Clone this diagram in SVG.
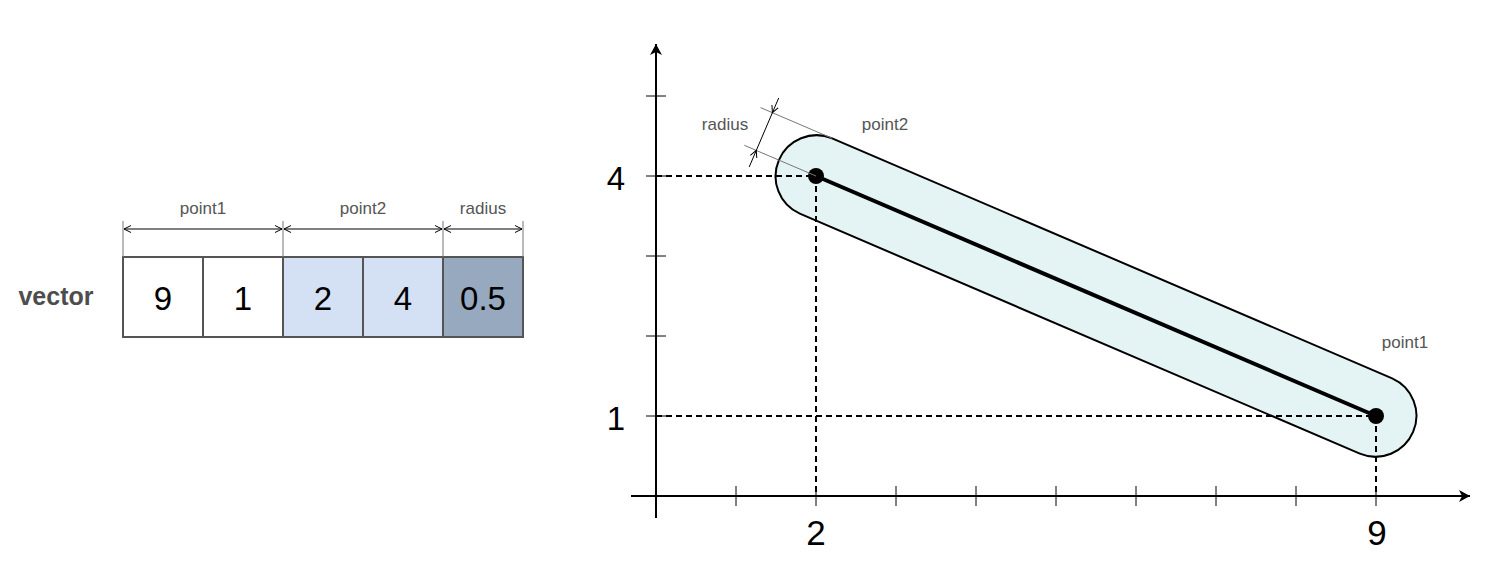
<svg xmlns="http://www.w3.org/2000/svg" width="1487" height="579" viewBox="0 0 1487 579">
<style>
.lbl{font-family:"Liberation Sans",Arial,sans-serif;font-size:17px;fill:#555;text-anchor:middle}
.num{font-family:"Liberation Sans",Arial,sans-serif;font-size:33px;fill:#000;text-anchor:middle}
.ax{font-family:"Liberation Sans",Arial,sans-serif;fill:#000;text-anchor:middle}
.cell{stroke:#555;stroke-width:2}
.ext{stroke:#777;stroke-width:1;fill:none}
.dim{stroke:#000;stroke-width:1;fill:none}
.axis{stroke:#000;stroke-width:2;fill:none}
.tick{stroke:#000;stroke-width:1}
.dash{stroke:#000;stroke-width:2;stroke-dasharray:6 4;fill:none}
</style>
<defs>
<marker id="open" markerUnits="userSpaceOnUse" markerWidth="10" markerHeight="10" refX="7" refY="3.5" orient="auto-start-reverse" viewBox="0 0 10 7">
<path d="M0,0 L7,3.5 L0,7" fill="none" stroke="#000" stroke-width="1"/>
</marker>
<marker id="axarrow" markerUnits="userSpaceOnUse" markerWidth="14" markerHeight="14" refX="11" refY="7" orient="auto" viewBox="0 0 14 14">
<path d="M0,1 L11,7 L0,13 L3,7 Z" fill="#000"/>
</marker>
</defs>
<rect width="1487" height="579" fill="#fff"/>

<g id="vector-label"><text x="56" y="305" font-family="Liberation Sans,Arial,sans-serif" font-size="25px" font-weight="bold" fill="#4d4d4d" text-anchor="middle">vector</text></g>

<g id="cell-9"><rect class="cell" x="123" y="257" width="80" height="80" fill="#fff"/><text class="num" x="163" y="310">9</text></g>
<g id="cell-1"><rect class="cell" x="203" y="257" width="80" height="80" fill="#fff" stroke="#333"/><text class="num" x="243" y="310">1</text></g>
<g id="cell-2"><rect class="cell" x="283" y="257" width="80" height="80" fill="#d4e1f5"/><text class="num" x="323" y="310">2</text></g>
<g id="cell-4"><rect class="cell" x="363" y="257" width="80" height="80" fill="#d4e1f5"/><text class="num" x="403" y="310">4</text></g>
<g id="cell-05"><rect class="cell" x="443" y="257" width="80" height="80" fill="#97a9bf"/><text class="num" x="483" y="310">0.5</text></g>

<g id="vector-dims">
<line class="ext" x1="123" y1="221" x2="123" y2="257"/>
<line class="ext" x1="283" y1="221" x2="283" y2="257"/>
<line class="ext" x1="443" y1="221" x2="443" y2="257"/>
<line class="ext" x1="523" y1="221" x2="523" y2="257"/>
<line class="dim" x1="124" y1="229" x2="282" y2="229" marker-start="url(#open)" marker-end="url(#open)"/>
<line class="dim" x1="284" y1="229" x2="442" y2="229" marker-start="url(#open)" marker-end="url(#open)"/>
<line class="dim" x1="444" y1="229" x2="522" y2="229" marker-start="url(#open)" marker-end="url(#open)"/>
<text class="lbl" x="203" y="214">point1</text>
<text class="lbl" x="363" y="214">point2</text>
<text class="lbl" x="483" y="214">radius</text>
</g>

<g id="axes">
<line class="axis" x1="656" y1="518" x2="656" y2="44" marker-end="url(#axarrow)"/>
<line class="axis" x1="631" y1="496" x2="1470" y2="496" marker-end="url(#axarrow)"/>
<g class="tick">
<line x1="646" y1="96" x2="666" y2="96"/>
<line x1="646" y1="176" x2="666" y2="176"/>
<line x1="646" y1="256" x2="666" y2="256"/>
<line x1="646" y1="336" x2="666" y2="336"/>
<line x1="646" y1="416" x2="666" y2="416"/>
<line x1="736" y1="486" x2="736" y2="506"/>
<line x1="816" y1="486" x2="816" y2="506"/>
<line x1="896" y1="486" x2="896" y2="506"/>
<line x1="976" y1="486" x2="976" y2="506"/>
<line x1="1056" y1="486" x2="1056" y2="506"/>
<line x1="1136" y1="486" x2="1136" y2="506"/>
<line x1="1216" y1="486" x2="1216" y2="506"/>
<line x1="1296" y1="486" x2="1296" y2="506"/>
<line x1="1376" y1="486" x2="1376" y2="506"/>
</g>
<text class="ax" x="616" y="190" font-size="33px">4</text>
<text class="ax" x="616" y="430" font-size="33px">1</text>
<text class="ax" x="816" y="545" font-size="35px">2</text>
<text class="ax" x="1377" y="545" font-size="35px">9</text>
</g>

<g id="capsule">
<path d="M832.15,138.32 L1392.15,378.32 A41,41 0 0 1 1359.85,453.68 L799.85,213.68 A41,41 0 0 1 832.15,138.32 Z" fill="#e4f3f4" stroke="#000" stroke-width="2"/>
</g>

<g id="connectors">
<path class="dash" d="M656,176 H816 V496"/>
<path class="dash" d="M656,416 H1376 V496"/>
<line x1="816" y1="176" x2="1376" y2="416" stroke="#000" stroke-width="4"/>
</g>

<g id="point2"><circle cx="816" cy="176" r="8" fill="#000"/><text class="lbl" x="885" y="130">point2</text></g>
<g id="point1"><circle cx="1376" cy="416" r="8" fill="#000"/><text class="lbl" x="1405" y="348">point1</text></g>

<g id="radius-dim">
<line class="ext" x1="816" y1="176" x2="744.3" y2="145.3"/>
<line class="ext" x1="832.15" y1="138.32" x2="760.5" y2="107.6"/>
<line class="dim" x1="772.4" y1="112.7" x2="756.3" y2="150.4"/>
<line class="dim" x1="778.7" y1="98" x2="772.4" y2="112.7" marker-end="url(#open)"/>
<line class="dim" x1="749.2" y1="167" x2="756.3" y2="150.4" marker-end="url(#open)"/>
<text class="lbl" x="725" y="130">radius</text>
</g>
</svg>
